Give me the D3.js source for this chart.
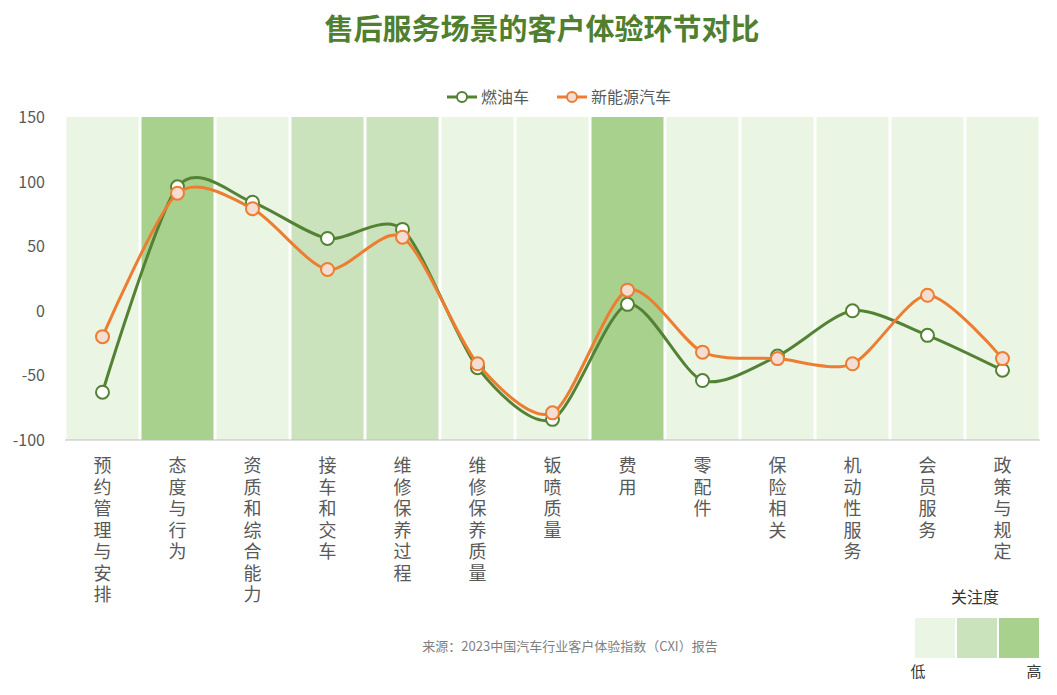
<!DOCTYPE html><html><head><meta charset="utf-8">
<script src="https://cdn.jsdelivr.net/npm/d3@7"></script>
<style>body{margin:0;background:#fff}text{font-family:"Noto Sans CJK SC","Noto Sans",sans-serif}</style></head><body>
<svg id="c" width="1057" height="695"></svg>
<script>
const categories=["预约管理与安排","态度与行为","资质和综合能力","接车和交车","维修保养过程","维修保养质量","钣喷质量","费用","零配件","保险相关","机动性服务","会员服务","政策与规定"];
const attention=[0,2,0,1,1,0,0,2,0,0,0,0,0];
const fuel=[-63,96,84,56,63,-44,-84,5,-54,-35,0,-19,-46];
const nev=[-20,91,79,32,57,-41,-79,16,-32,-37,-41,12,-37];
const yTicks=[150,100,50,0,-50,-100];
const seriesNames=["燃油车","新能源汽车"];
const bandColors=["#ebf5e4","#cbe3bd","#a9d18e"];
const svg=d3.select("#c");
const x=d3.scaleBand().domain(categories).range([65,1040]);
const y=d3.scaleLinear().domain([-100,150]).range([440,117]);
svg.append("text").attr("x",542).attr("y",40).attr("text-anchor","middle").attr("font-size",29).attr("font-weight","bold").attr("fill","#4f7f2f").text("售后服务场景的客户体验环节对比");
svg.selectAll("rect.b").data(categories).join("rect").attr("x",d=>x(d)+1.5).attr("width",x.bandwidth()-3).attr("y",y(150)).attr("height",y(-100)-y(150)).attr("fill",(d,i)=>bandColors[attention[i]]);
svg.append("line").attr("x1",65).attr("x2",1040).attr("y1",y(-100)).attr("y2",y(-100)).attr("stroke","#bfbfbf");
svg.selectAll("text.yt").data(yTicks).join("text").attr("x",45).attr("y",d=>y(d)+6).attr("text-anchor","end").attr("font-size",16).attr("fill","#595959").text(d=>d);
categories.forEach(c=>{[...c].forEach((ch,i)=>svg.append("text").attr("text-anchor","middle").attr("font-size",18).attr("fill","#595959").attr("x",x(c)+x.bandwidth()/2).attr("y",472+i*21.5).text(ch));});
const line=d3.line().x((d,i)=>x(categories[i])+x.bandwidth()/2).y(d=>y(d)).curve(d3.curveCardinal.tension(0.2));
const series=[{v:fuel,c:"#548235",f:"#ffffff"},{v:nev,c:"#ed7d31",f:"#f4ddd3"}];
series.forEach(s=>{svg.append("path").attr("d",line(s.v)).attr("fill","none").attr("stroke",s.c).attr("stroke-width",3);
svg.selectAll(null).data(s.v).join("circle").attr("cx",(d,i)=>x(categories[i])+x.bandwidth()/2).attr("cy",d=>y(d)).attr("r",6.5).attr("fill",s.f).attr("stroke",s.c).attr("stroke-width",2);});
[[447,0],[557,1]].forEach(([lx,i])=>{const s=series[i];
svg.append("line").attr("x1",lx).attr("x2",lx+30).attr("y1",97).attr("y2",97).attr("stroke",s.c).attr("stroke-width",3);
svg.append("circle").attr("cx",lx+15).attr("cy",97).attr("r",5).attr("fill",s.f).attr("stroke",s.c).attr("stroke-width",2);
svg.append("text").attr("x",lx+34).attr("y",103).attr("font-size",16).attr("fill","#595959").text(seriesNames[i]);});
svg.append("text").attr("x",570).attr("y",651).attr("text-anchor","middle").attr("font-size",13).attr("fill","#7f7f7f").text("来源：2023中国汽车行业客户体验指数（CXI）报告");
svg.append("text").attr("x",975).attr("y",603).attr("text-anchor","middle").attr("font-size",16).attr("fill","#333").text("关注度");
bandColors.forEach((c,i)=>svg.append("rect").attr("x",915+i*42).attr("y",618).attr("width",40).attr("height",40).attr("fill",c));
svg.append("text").attr("x",918).attr("y",677).attr("text-anchor","middle").attr("font-size",15).attr("fill","#333").text("低");
svg.append("text").attr("x",1034).attr("y",677).attr("text-anchor","middle").attr("font-size",15).attr("fill","#333").text("高");
</script></body></html>
